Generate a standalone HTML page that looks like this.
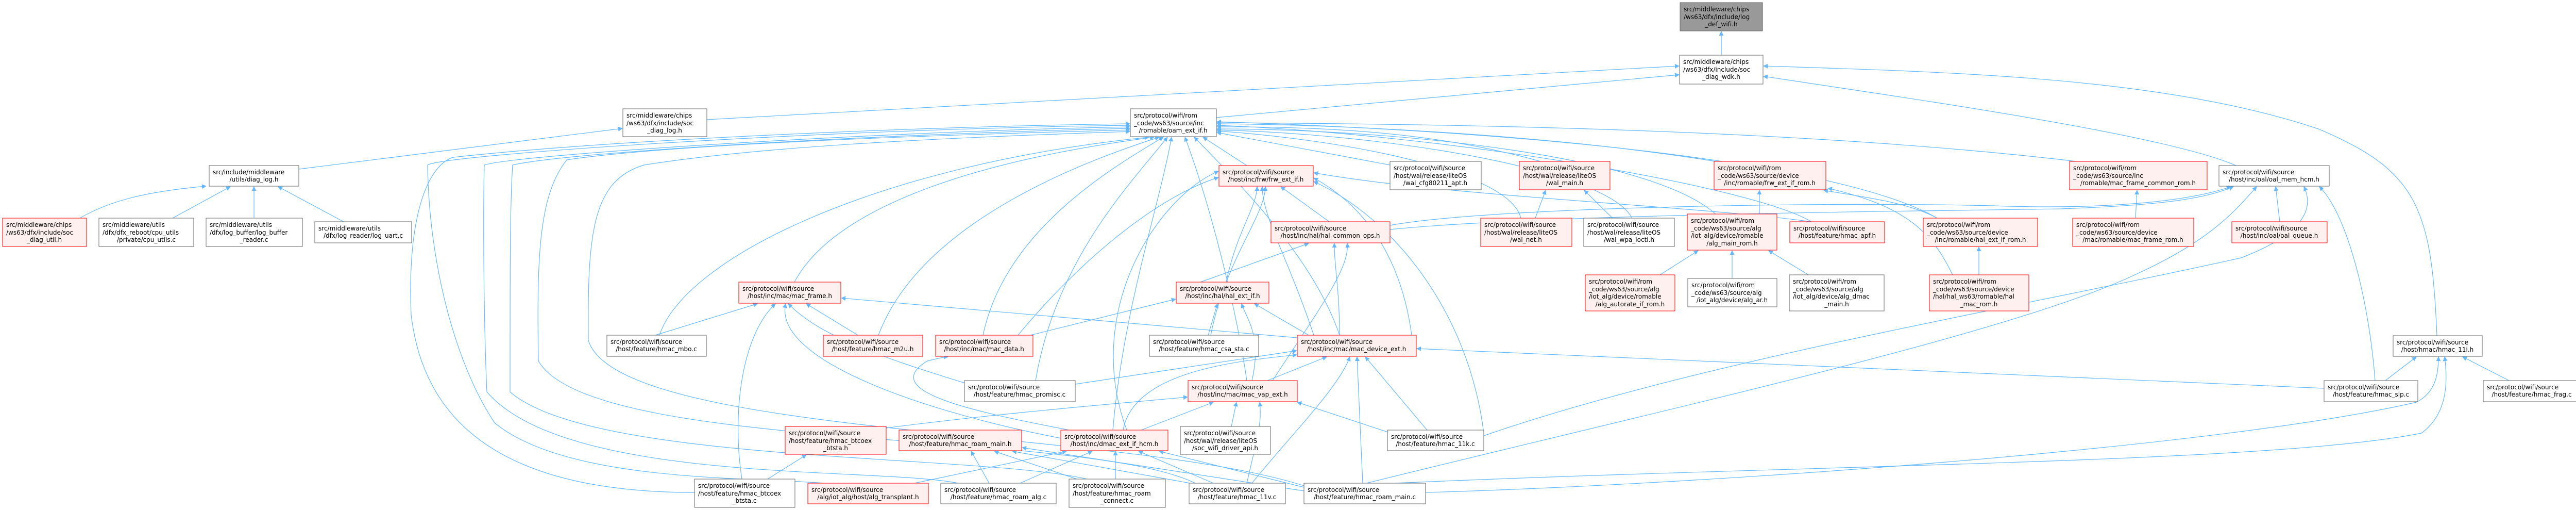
<!DOCTYPE html>
<html><head><meta charset="utf-8">
<style>
html,body{margin:0;padding:0;background:#fff;}
svg{display:block;}
.n rect{stroke-width:1;}
.g rect{fill:#fff;stroke:#666;}
.r rect{fill:#fff0f0;stroke:#ff0000;}
.d rect{fill:#999;stroke:#666;}
text{font-family:"DejaVu Sans","Liberation Sans",sans-serif;font-size:12px;fill:#000;}
.e{fill:none;stroke:#63b8ff;stroke-width:1.2;marker-end:url(#ah);}
</style></head><body>
<svg width="5015" height="989" viewBox="0 0 5015 989" xmlns="http://www.w3.org/2000/svg">
<defs><marker id="ah" viewBox="0 0 10 10" refX="9" refY="5" markerWidth="9" markerHeight="9" orient="auto" markerUnits="userSpaceOnUse"><path d="M0,0 L10,5 L0,10 z" fill="#63b8ff"/></marker></defs>

<!-- edges -->
<path class="e" d="M3341,107 L3341,61"/>
<path class="e" d="M1372,232 L3259,128"/>
<path class="e" d="M2361,228 L3259,145"/>
<path class="e" d="M4340,321 C4200,260 3700,190 3423,148"/>
<path class="e" d="M4730,651 C4720,400 4690,330 4500,250 C4200,150 3800,140 3423,128"/>
<path class="e" d="M580,328 L1208,249"/>
<path class="e" d="M155,423 C220,385 300,370 400,361"/>
<path class="e" d="M335,423 L447,362"/>
<path class="e" d="M493,423 L493,362"/>
<path class="e" d="M667,430 L540,362"/>

<!-- left big curves into oam_ext_if -->
<path class="e" d="M1348,955 C950,955 820,800 798,610 C790,420 830,320 880,305 C1200,270 1800,245 2193,240"/>
<path class="e" d="M1600,937 C1450,925 1100,935 960,820 C880,700 832,500 830,320 C860,300 1600,250 2193,243"/>
<path class="e" d="M1860,937 C1700,905 1100,940 945,760 C938,600 938,400 940,320 C1000,300 1700,255 2193,246"/>
<path class="e" d="M2110,929 C1900,880 1150,900 990,760 C990,500 990,400 995,320 C1100,295 1700,260 2193,249"/>
<path class="e" d="M2320,937 C2100,830 1150,880 1045,700 C1042,500 1045,380 1100,310 C1300,280 1800,262 2193,252"/>
<path class="e" d="M2540,945 C2200,830 1200,850 1142,660 C1140,450 1150,350 1250,320 C1500,280 1900,265 2193,255"/>

<!-- into oam_ext_if bottom -->
<path class="e" d="M1280,650 C1330,500 1700,320 2230,266"/>
<path class="e" d="M1542,547 C1620,400 1900,310 2240,266"/>
<path class="e" d="M1705,650 C1780,450 2050,330 2250,266"/>
<path class="e" d="M1908,650 C1950,450 2150,330 2258,266"/>
<path class="e" d="M2010,738 C2050,500 2200,350 2266,266"/>
<path class="e" d="M2160,834 C2180,600 2250,400 2274,266"/>
<path class="e" d="M2420,738 C2400,600 2350,400 2300,266"/>
<path class="e" d="M2600,650 C2550,500 2400,350 2318,266"/>
<path class="e" d="M2420,321 L2335,266"/>
<!-- into oam right -->
<path class="e" d="M2698,320 L2362,257"/>
<path class="e" d="M2990,313 C2800,260 2600,245 2362,246"/>
<path class="e" d="M3330,313 C3000,260 2600,242 2362,240"/>
<path class="e" d="M4030,313 C3500,250 2800,240 2362,238"/>
<path class="e" d="M3760,423 C3600,330 3100,260 2362,236"/>
<path class="e" d="M3330,415 C3200,300 2700,250 2362,250"/>
<path class="e" d="M3516,430 C3400,360 2800,260 2362,243"/>
<path class="e" d="M3168,423 C3120,330 2700,260 2362,252"/>
<path class="e" d="M2952,423 C2930,330 2600,270 2362,254"/>

<!-- into frw_ext_if -->
<path class="e" d="M2580,430 L2486,362"/>
<path class="e" d="M1976,650 C2100,500 2250,380 2365,344"/>
<path class="e" d="M2187,834 C2100,600 2250,380 2365,332"/>
<path class="e" d="M2380,547 C2400,450 2440,400 2440,362"/>
<path class="e" d="M2550,650 C2500,500 2450,420 2450,362"/>
<path class="e" d="M2350,650 C2380,500 2455,420 2456,362"/>
<path class="e" d="M3516,430 C3300,400 2800,380 2550,335"/>
<path class="e" d="M2740,650 C2720,500 2650,400 2550,345"/>
<path class="e" d="M2880,840 C2850,600 2700,420 2550,352"/>

<!-- into hal_common_ops -->
<path class="e" d="M2330,547 L2540,472"/>
<path class="e" d="M2600,650 C2600,560 2590,520 2590,472"/>
<path class="e" d="M2470,738 C2560,600 2620,520 2615,472"/>
<path class="e" d="M2698,437 C2900,400 3600,390 3900,400 C4100,405 4250,390 4330,362"/>
<path class="e" d="M2698,445 C3000,415 3700,410 4000,405 C4200,398 4280,385 4335,362"/>

<!-- wal_main -->
<path class="e" d="M2980,423 L3000,369"/>
<path class="e" d="M3130,423 L3075,369"/>
<!-- frw_ext_if_rom -->
<path class="e" d="M3415,415 L3415,369"/>
<path class="e" d="M3760,423 C3700,390 3600,380 3540,369"/>
<path class="e" d="M3790,533 C3750,450 3700,400 3548,365"/>
<!-- alg_main_rom -->
<path class="e" d="M3222,533 L3296,486"/>
<path class="e" d="M3362,540 L3362,486"/>
<path class="e" d="M3510,533 L3433,486"/>
<!-- hal_ext_if_rom -->
<path class="e" d="M3841,533 L3841,479"/>
<!-- mac_frame_common_rom -->
<path class="e" d="M4145,423 L4148,369"/>
<!-- oal_mem_hcm -->
<path class="e" d="M4425,430 L4417,362"/>
<path class="e" d="M4610,738 C4600,600 4560,420 4502,362"/>
<path class="e" d="M2880,845 C3300,700 3900,600 4350,500 C4480,450 4490,400 4472,362"/>
<path class="e" d="M2600,950 C3200,800 3900,650 4150,530 C4280,470 4330,420 4380,362"/>
<!-- hmac_11i -->
<path class="e" d="M4630,738 L4690,692"/>
<path class="e" d="M4870,738 L4780,692"/>
<path class="e" d="M2767,955 C3300,940 4300,870 4690,780 C4730,760 4733,720 4733,692"/>
<path class="e" d="M2640,940 C3500,900 4400,900 4700,840 C4755,800 4750,730 4745,692"/>

<!-- mac_frame -->
<path class="e" d="M1272,650 L1470,589"/>
<path class="e" d="M1665,650 L1565,589"/>
<path class="e" d="M1880,745 C1700,690 1590,650 1530,589"/>
<path class="e" d="M1440,929 C1420,800 1440,650 1505,589"/>
<path class="e" d="M2060,850 C1800,800 1500,700 1525,589"/>
<path class="e" d="M2518,655 L1633,578"/>
<!-- hal_ext_if -->
<path class="e" d="M2000,650 L2282,580"/>
<path class="e" d="M2345,650 L2363,589"/>
<path class="e" d="M2430,738 C2450,650 2420,620 2410,589"/>
<path class="e" d="M2540,650 L2435,589"/>
<!-- mac_device_ext -->
<path class="e" d="M2087,745 L2517,680"/>
<path class="e" d="M2460,738 L2575,692"/>
<path class="e" d="M2770,834 L2650,692"/>
<path class="e" d="M2430,937 C2500,850 2600,750 2620,692"/>
<path class="e" d="M2645,937 L2634,692"/>
<path class="e" d="M4511,753 L2750,676"/>
<path class="e" d="M2180,834 C2200,720 2400,700 2517,688"/>
<!-- mac_vap_ext -->
<path class="e" d="M1720,830 C1950,800 2200,780 2305,770"/>
<path class="e" d="M2215,834 L2355,780"/>
<path class="e" d="M2390,827 L2400,780"/>
<path class="e" d="M2420,937 C2440,850 2450,820 2445,780"/>
<path class="e" d="M2700,840 L2518,780"/>
<!-- dmac_ext_if_hcm -->
<path class="e" d="M1775,937 L2070,875"/>
<path class="e" d="M1980,937 L2120,875"/>
<path class="e" d="M2165,929 L2165,875"/>
<path class="e" d="M2355,937 L2210,875"/>
<path class="e" d="M2531,945 L2250,875"/>
<!-- roam_main.h -->
<path class="e" d="M1920,937 L1885,875"/>
<path class="e" d="M2090,929 L1930,875"/>
<path class="e" d="M2310,937 L1965,875"/>
<path class="e" d="M2531,952 L1984,868"/>
<!-- btcoex.h -->
<path class="e" d="M1490,929 L1565,882"/>
<!-- mac_data -->
<path class="e" d="M2075,834 C1900,800 1700,760 1800,700 C1820,695 1835,692 1840,692"/>

<!-- nodes -->
<g class="n d"><rect x="3261" y="5" width="160" height="55"/><text x="3268" y="22">src/middleware/chips</text><text x="3268" y="37">/ws63/dfx/include/log</text><text x="3341" y="51" text-anchor="middle">_def_wifi.h</text></g>
<g class="n g"><rect x="3260" y="107" width="162" height="56"/><text x="3267" y="124">src/middleware/chips</text><text x="3267" y="139">/ws63/dfx/include/soc</text><text x="3341" y="153" text-anchor="middle">_diag_wdk.h</text></g>
<g class="n g"><rect x="1209" y="211" width="163" height="54"/><text x="1216" y="228">src/middleware/chips</text><text x="1216" y="243">/ws63/dfx/include/soc</text><text x="1290" y="257" text-anchor="middle">_diag_log.h</text></g>
<g class="n g"><rect x="2194" y="211" width="167" height="54"/><text x="2201" y="228">src/protocol/wifi/rom</text><text x="2201" y="243">_code/ws63/source/inc</text><text x="2277" y="257" text-anchor="middle">/romable/oam_ext_if.h</text></g>
<g class="n g"><rect x="406" y="321" width="174" height="40"/><text x="413" y="338">src/include/middleware</text><text x="493" y="352" text-anchor="middle">/utils/diag_log.h</text></g>
<g class="n r"><rect x="2366" y="321" width="183" height="40"/><text x="2373" y="338">src/protocol/wifi/source</text><text x="2457" y="352" text-anchor="middle">/host/inc/frw/frw_ext_if.h</text></g>
<g class="n g"><rect x="2698" y="313" width="177" height="55"/><text x="2705" y="330">src/protocol/wifi/source</text><text x="2705" y="345">/host/wal/release/liteOS</text><text x="2786" y="359" text-anchor="middle">/wal_cfg80211_apt.h</text></g>
<g class="n r"><rect x="2949" y="313" width="176" height="55"/><text x="2956" y="330">src/protocol/wifi/source</text><text x="2956" y="345">/host/wal/release/liteOS</text><text x="3037" y="359" text-anchor="middle">/wal_main.h</text></g>
<g class="n r"><rect x="3327" y="313" width="217" height="55"/><text x="3334" y="330">src/protocol/wifi/rom</text><text x="3334" y="345">_code/ws63/source/device</text><text x="3435" y="359" text-anchor="middle">/inc/romable/frw_ext_if_rom.h</text></g>
<g class="n r"><rect x="4017" y="313" width="267" height="55"/><text x="4024" y="330">src/protocol/wifi/rom</text><text x="4024" y="345">_code/ws63/source/inc</text><text x="4150" y="359" text-anchor="middle">/romable/mac_frame_common_rom.h</text></g>
<g class="n g"><rect x="4307" y="321" width="214" height="40"/><text x="4314" y="338">src/protocol/wifi/source</text><text x="4414" y="352" text-anchor="middle">/host/inc/oal/oal_mem_hcm.h</text></g>
<g class="n r"><rect x="5" y="423" width="163" height="55"/><text x="12" y="440">src/middleware/chips</text><text x="12" y="455">/ws63/dfx/include/soc</text><text x="86" y="469" text-anchor="middle">_diag_util.h</text></g>
<g class="n g"><rect x="192" y="423" width="184" height="55"/><text x="199" y="440">src/middleware/utils</text><text x="199" y="455">/dfx/dfx_reboot/cpu_utils</text><text x="284" y="469" text-anchor="middle">/private/cpu_utils.c</text></g>
<g class="n g"><rect x="400" y="423" width="187" height="55"/><text x="407" y="440">src/middleware/utils</text><text x="407" y="455">/dfx/log_buffer/log_buffer</text><text x="493" y="469" text-anchor="middle">_reader.c</text></g>
<g class="n g"><rect x="611" y="430" width="188" height="41"/><text x="618" y="447">src/middleware/utils</text><text x="705" y="461" text-anchor="middle">/dfx/log_reader/log_uart.c</text></g>
<g class="n r"><rect x="2467" y="430" width="231" height="41"/><text x="2474" y="447">src/protocol/wifi/source</text><text x="2582" y="461" text-anchor="middle">/host/inc/hal/hal_common_ops.h</text></g>
<g class="n r"><rect x="2874" y="423" width="177" height="55"/><text x="2881" y="440">src/protocol/wifi/source</text><text x="2881" y="455">/host/wal/release/liteOS</text><text x="2962" y="469" text-anchor="middle">/wal_net.h</text></g>
<g class="n g"><rect x="3074" y="423" width="176" height="55"/><text x="3081" y="440">src/protocol/wifi/source</text><text x="3081" y="455">/host/wal/release/liteOS</text><text x="3162" y="469" text-anchor="middle">/wal_wpa_ioctl.h</text></g>
<g class="n r"><rect x="3275" y="415" width="174" height="70"/><text x="3282" y="432">src/protocol/wifi/rom</text><text x="3282" y="447">_code/ws63/source/alg</text><text x="3282" y="461">/iot_alg/device/romable</text><text x="3362" y="476" text-anchor="middle">/alg_main_rom.h</text></g>
<g class="n r"><rect x="3474" y="430" width="184" height="41"/><text x="3481" y="447">src/protocol/wifi/source</text><text x="3566" y="461" text-anchor="middle">/host/feature/hmac_apf.h</text></g>
<g class="n r"><rect x="3733" y="423" width="222" height="55"/><text x="3740" y="440">src/protocol/wifi/rom</text><text x="3740" y="455">_code/ws63/source/device</text><text x="3844" y="469" text-anchor="middle">/inc/romable/hal_ext_if_rom.h</text></g>
<g class="n r"><rect x="4023" y="423" width="235" height="55"/><text x="4030" y="440">src/protocol/wifi/rom</text><text x="4030" y="455">_code/ws63/source/device</text><text x="4140" y="469" text-anchor="middle">/mac/romable/mac_frame_rom.h</text></g>
<g class="n r"><rect x="4332" y="430" width="185" height="41"/><text x="4339" y="447">src/protocol/wifi/source</text><text x="4424" y="461" text-anchor="middle">/host/inc/oal/oal_queue.h</text></g>
<g class="n r"><rect x="3077" y="533" width="174" height="70"/><text x="3084" y="550">src/protocol/wifi/rom</text><text x="3084" y="565">_code/ws63/source/alg</text><text x="3084" y="579">/iot_alg/device/romable</text><text x="3164" y="594" text-anchor="middle">/alg_autorate_if_rom.h</text></g>
<g class="n g"><rect x="3276" y="540" width="173" height="55"/><text x="3283" y="557">src/protocol/wifi/rom</text><text x="3283" y="572">_code/ws63/source/alg</text><text x="3362" y="586" text-anchor="middle">/iot_alg/device/alg_ar.h</text></g>
<g class="n g"><rect x="3473" y="533" width="184" height="70"/><text x="3480" y="550">src/protocol/wifi/rom</text><text x="3480" y="565">_code/ws63/source/alg</text><text x="3480" y="579">/iot_alg/device/alg_dmac</text><text x="3565" y="594" text-anchor="middle">_main.h</text></g>
<g class="n r"><rect x="3745" y="533" width="193" height="70"/><text x="3752" y="550">src/protocol/wifi/rom</text><text x="3752" y="565">_code/ws63/source/device</text><text x="3752" y="579">/hal/hal_ws63/romable/hal</text><text x="3841" y="594" text-anchor="middle">_mac_rom.h</text></g>
<g class="n r"><rect x="1434" y="547" width="198" height="41"/><text x="1441" y="564">src/protocol/wifi/source</text><text x="1533" y="578" text-anchor="middle">/host/inc/mac/mac_frame.h</text></g>
<g class="n r"><rect x="2283" y="547" width="180" height="41"/><text x="2290" y="564">src/protocol/wifi/source</text><text x="2373" y="578" text-anchor="middle">/host/inc/hal/hal_ext_if.h</text></g>
<g class="n g"><rect x="1178" y="650" width="193" height="41"/><text x="1185" y="667">src/protocol/wifi/source</text><text x="1274" y="681" text-anchor="middle">/host/feature/hmac_mbo.c</text></g>
<g class="n r"><rect x="1598" y="650" width="193" height="41"/><text x="1605" y="667">src/protocol/wifi/source</text><text x="1694" y="681" text-anchor="middle">/host/feature/hmac_m2u.h</text></g>
<g class="n r"><rect x="1816" y="650" width="189" height="41"/><text x="1823" y="667">src/protocol/wifi/source</text><text x="1910" y="681" text-anchor="middle">/host/inc/mac/mac_data.h</text></g>
<g class="n g"><rect x="2231" y="650" width="212" height="41"/><text x="2238" y="667">src/protocol/wifi/source</text><text x="2337" y="681" text-anchor="middle">/host/feature/hmac_csa_sta.c</text></g>
<g class="n r"><rect x="2518" y="650" width="231" height="41"/><text x="2525" y="667">src/protocol/wifi/source</text><text x="2633" y="681" text-anchor="middle">/host/inc/mac/mac_device_ext.h</text></g>
<g class="n g"><rect x="4645" y="651" width="173" height="40"/><text x="4652" y="668">src/protocol/wifi/source</text><text x="4731" y="682" text-anchor="middle">/host/hmac/hmac_11i.h</text></g>
<g class="n g"><rect x="1872" y="738" width="215" height="41"/><text x="1879" y="755">src/protocol/wifi/source</text><text x="1979" y="769" text-anchor="middle">/host/feature/hmac_promisc.c</text></g>
<g class="n r"><rect x="2306" y="738" width="212" height="41"/><text x="2313" y="755">src/protocol/wifi/source</text><text x="2412" y="769" text-anchor="middle">/host/inc/mac/mac_vap_ext.h</text></g>
<g class="n g"><rect x="4511" y="738" width="182" height="41"/><text x="4518" y="755">src/protocol/wifi/source</text><text x="4602" y="769" text-anchor="middle">/host/feature/hmac_slp.c</text></g>
<g class="n g"><rect x="4820" y="738" width="189" height="41"/><text x="4827" y="755">src/protocol/wifi/source</text><text x="4914" y="769" text-anchor="middle">/host/feature/hmac_frag.c</text></g>
<g class="n r"><rect x="1524" y="827" width="196" height="54"/><text x="1531" y="844">src/protocol/wifi/source</text><text x="1531" y="859">/host/feature/hmac_btcoex</text><text x="1622" y="873" text-anchor="middle">_btsta.h</text></g>
<g class="n r"><rect x="1745" y="834" width="238" height="40"/><text x="1752" y="851">src/protocol/wifi/source</text><text x="1864" y="865" text-anchor="middle">/host/feature/hmac_roam_main.h</text></g>
<g class="n r"><rect x="2059" y="834" width="208" height="40"/><text x="2066" y="851">src/protocol/wifi/source</text><text x="2163" y="865" text-anchor="middle">/host/inc/dmac_ext_if_hcm.h</text></g>
<g class="n g"><rect x="2291" y="827" width="175" height="54"/><text x="2298" y="844">src/protocol/wifi/source</text><text x="2298" y="859">/host/wal/release/liteOS</text><text x="2378" y="873" text-anchor="middle">/soc_wifi_driver_api.h</text></g>
<g class="n g"><rect x="2693" y="834" width="187" height="40"/><text x="2700" y="851">src/protocol/wifi/source</text><text x="2786" y="865" text-anchor="middle">/host/feature/hmac_11k.c</text></g>
<g class="n g"><rect x="1348" y="929" width="195" height="55"/><text x="1355" y="946">src/protocol/wifi/source</text><text x="1355" y="961">/host/feature/hmac_btcoex</text><text x="1445" y="975" text-anchor="middle">_btsta.c</text></g>
<g class="n r"><rect x="1568" y="937" width="234" height="40"/><text x="1575" y="954">src/protocol/wifi/source</text><text x="1685" y="968" text-anchor="middle">/alg/iot_alg/host/alg_transplant.h</text></g>
<g class="n g"><rect x="1826" y="937" width="224" height="40"/><text x="1833" y="954">src/protocol/wifi/source</text><text x="1938" y="968" text-anchor="middle">/host/feature/hmac_roam_alg.c</text></g>
<g class="n g"><rect x="2075" y="929" width="187" height="55"/><text x="2082" y="946">src/protocol/wifi/source</text><text x="2082" y="961">/host/feature/hmac_roam</text><text x="2168" y="975" text-anchor="middle">_connect.c</text></g>
<g class="n g"><rect x="2308" y="937" width="187" height="40"/><text x="2315" y="954">src/protocol/wifi/source</text><text x="2401" y="968" text-anchor="middle">/host/feature/hmac_11v.c</text></g>
<g class="n g"><rect x="2531" y="937" width="236" height="40"/><text x="2538" y="954">src/protocol/wifi/source</text><text x="2649" y="968" text-anchor="middle">/host/feature/hmac_roam_main.c</text></g>
</svg>
</body></html>
